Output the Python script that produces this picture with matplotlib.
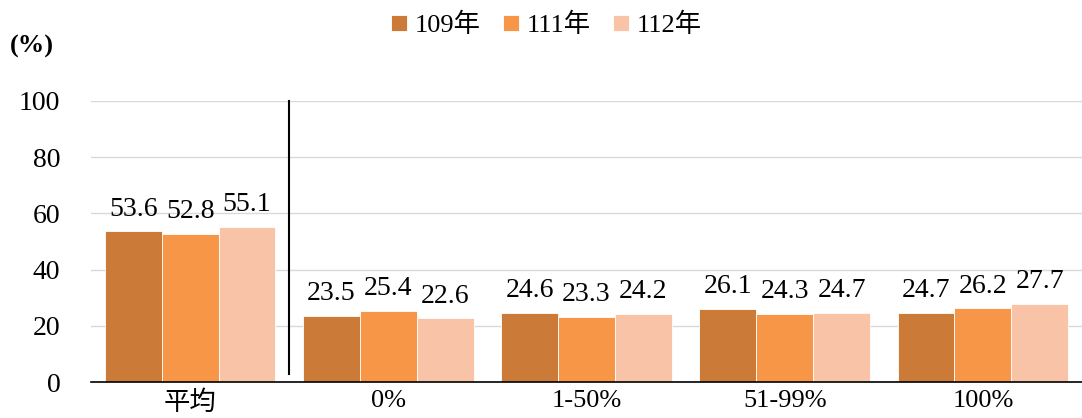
import numpy as np
import matplotlib.pyplot as plt

plt.rcParams['font.family'] = ['Liberation Serif', 'Noto Sans CJK TC', 'DejaVu Sans']

categories = ['平均', '0%', '1-50%', '51-99%', '100%']
years = ['109年', '111年', '112年']
vals_109 = [53.6, 23.5, 24.6, 26.1, 24.7]
vals_111 = [52.8, 25.4, 23.3, 24.3, 26.2]
vals_112 = [55.1, 22.6, 24.2, 24.7, 27.7]
colors = ['#CC7A38', '#F79646', '#F9C3A8']

fig = plt.figure(figsize=(10.82, 4.18), dpi=100)
ax = fig.add_axes([0.0841, 0.0861, 0.9159, 0.6723])

x = np.arange(len(categories))
w = 0.287
series = [vals_109, vals_111, vals_112]
for i, (vals, col, lab) in enumerate(zip(series, colors, years)):
    bars = ax.bar(x + (i - 1) * w, vals, w, color=col, label=lab,
                  edgecolor='white', linewidth=0.6, zorder=2)
    for b, v in zip(bars, vals):
        ax.annotate(f'{v:.1f}', (b.get_x() + b.get_width() / 2, v),
                    xytext=(0, 7), textcoords='offset points',
                    ha='center', va='bottom', fontsize=20)

# separator between average and groups
ax.plot([0.5, 0.5], [3, 100], color='black', linewidth=1.5, clip_on=False, zorder=3)

ax.set_xlim(-0.5, 4.5)
ax.set_ylim(0, 100)
ax.set_yticks(range(0, 101, 20))
ax.set_xticks(x)
ax.set_xticklabels(categories, fontsize=19)
ax.tick_params(axis='y', labelsize=20, length=0, pad=22)
ax.tick_params(axis='x', length=0, pad=6)
ax.grid(axis='y', color='#D9D9D9', linewidth=1, zorder=0)
ax.set_axisbelow(True)
for s in ['left', 'right', 'top']:
    ax.spines[s].set_visible(False)
ax.spines['bottom'].set_color('black')
ax.spines['bottom'].set_linewidth(1.2)
ax.spines['bottom'].set_zorder(4)

fig.text(0.009, 0.89, '(%)', fontsize=19, fontweight='bold', ha='left', va='center')

fig.legend(loc='center', bbox_to_anchor=(0.505, 0.94), ncol=3, frameon=False,
           fontsize=19, handlelength=0.6, handleheight=0.6, handletextpad=0.3,
           columnspacing=0.85)

fig.savefig('out.png', dpi=100)
